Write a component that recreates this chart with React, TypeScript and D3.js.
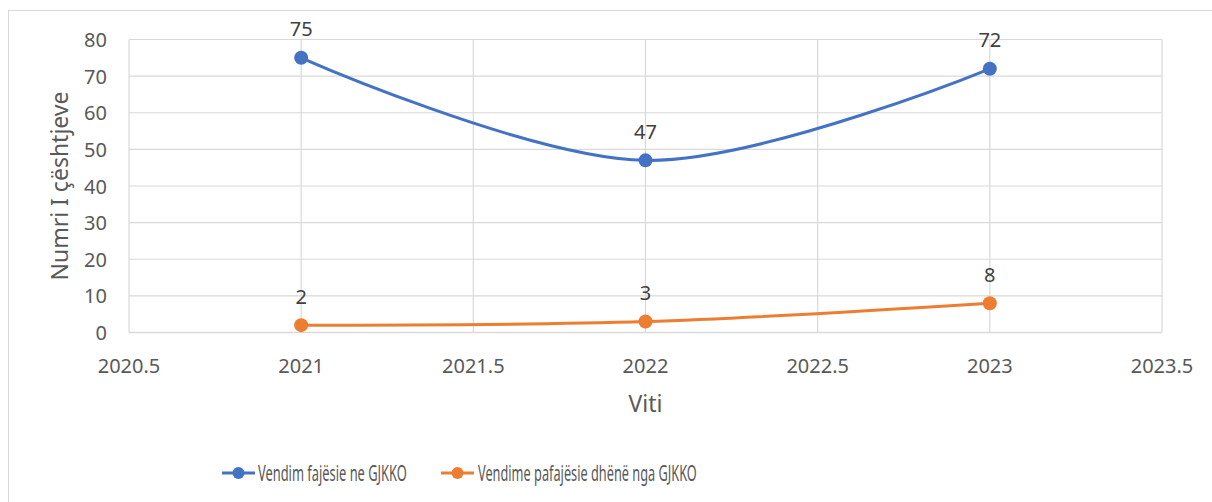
import React from "react";
import * as d3 from "d3";

const years = [2021, 2022, 2023];
const guiltyVerdicts = [75, 47, 72];
const acquittals = [2, 3, 8];
const xTicks = [2020.5, 2021, 2021.5, 2022, 2022.5, 2023, 2023.5];
const yTicks = [0, 10, 20, 30, 40, 50, 60, 70, 80];
const seriesNames = ["Vendim fajësie ne GJKKO", "Vendime pafajësie dhënë nga GJKKO"];
const seriesColors = ["#4472C4", "#ED7D31"];

const W = 1212;
const H = 502;
const font = "'Noto Sans', sans-serif";

// width of a string in px, used to squeeze the legend text
function measure(txt: string, size: number) {
  const ctx = document.createElement("canvas").getContext("2d");
  if (!ctx) return txt.length * size * 0.55;
  ctx.font = `${size}px 'Noto Sans', sans-serif`;
  return ctx.measureText(txt).width;
}

export default function App() {
  const x = d3.scaleLinear().domain([2020.5, 2023.5]).range([129, 1162]);
  const y = d3.scaleLinear().domain([0, 80]).range([332.5, 39.5]);

  const line = d3
    .line<[number, number]>()
    .x((d) => x(d[0]))
    .y((d) => y(d[1]))
    .curve(d3.curveCatmullRom.alpha(0));

  const series = [guiltyVerdicts, acquittals].map((vals) =>
    years.map((yr, i) => [yr, vals[i]] as [number, number])
  );

  // legend entry positions
  const legend = [
    { x: 222, textX: 258, len: 149 },
    { x: 441, textX: 478, len: 219 },
  ];
  const legendSize = 21;

  return (
    <div style={{ position: "absolute", left: 0, top: 0 }}>
      <svg width={W} height={H} style={{ display: "block", background: "#fff" }}>
        <rect x={8.5} y={10.5} width={1220} height={520} fill="#fff" stroke="#d9d9d9" />

        {yTicks.map((t) => (
          <line key={"gy" + t} x1={x(2020.5)} x2={x(2023.5)} y1={y(t)} y2={y(t)}
            stroke="#d9d9d9" strokeWidth={t === 0 ? 1.5 : 1.2} />
        ))}
        {xTicks.map((t) => (
          <line key={"gx" + t} x1={x(t)} x2={x(t)} y1={y(0)} y2={y(80)}
            stroke="#d9d9d9" strokeWidth={1.2} />
        ))}

        {yTicks.map((t) => (
          <text key={"ty" + t} x={107} y={y(t)} textAnchor="end" dominantBaseline="central"
            fontFamily={font} fontSize={20} fill="#595959">{t}</text>
        ))}
        {xTicks.map((t) => (
          <text key={"tx" + t} x={x(t)} y={365} textAnchor="middle" dominantBaseline="central"
            fontFamily={font} fontSize={20} fill="#595959">{d3.format("")(t)}</text>
        ))}

        <text x={x(2022)} y={403} textAnchor="middle" dominantBaseline="central"
          fontFamily={font} fontSize={23} fill="#595959">Viti</text>
        <text transform={`translate(59,186) rotate(-90)`} textAnchor="middle" dominantBaseline="central"
          fontFamily={font} fontSize={23} fill="#595959">Numri I çështjeve</text>

        {series.map((pts, si) => (
          <g key={"s" + si}>
            <path d={line(pts) || ""} fill="none" stroke={seriesColors[si]} strokeWidth={3} />
            {pts.map((p, i) => (
              <circle key={i} cx={x(p[0])} cy={y(p[1])} r={7} fill={seriesColors[si]} />
            ))}
            {pts.map((p, i) => (
              <text key={"l" + i} x={x(p[0])} y={y(p[1]) - 29} textAnchor="middle" dominantBaseline="central"
                fontFamily={font} fontSize={20} fill="#404040">{p[1]}</text>
            ))}
          </g>
        ))}

        {legend.map((l, i) => {
          const sx = Math.min(1, l.len / measure(seriesNames[i], legendSize));
          return (
            <g key={"lg" + i}>
              <line x1={l.x} x2={l.x + 33} y1={473} y2={473} stroke={seriesColors[i]} strokeWidth={3} />
              <circle cx={l.x + 16.5} cy={473} r={6} fill={seriesColors[i]} />
              <text transform={`translate(${l.textX},473) scale(${sx},1)`} dominantBaseline="central"
                fontFamily={font} fontSize={legendSize} fill="#595959">{seriesNames[i]}</text>
            </g>
          );
        })}
      </svg>
    </div>
  );
}
